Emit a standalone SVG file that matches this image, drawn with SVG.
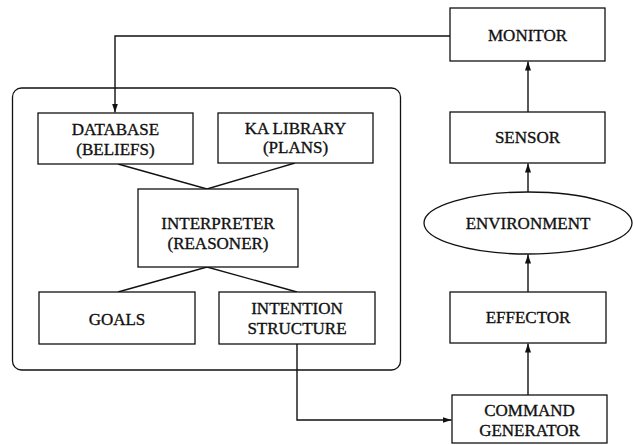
<svg xmlns="http://www.w3.org/2000/svg" width="633" height="445" viewBox="0 0 633 445">
<style>
.b{fill:#fff;stroke:#111;stroke-width:1.3}
.c{fill:none;stroke:#111;stroke-width:1.4}
text{font-family:"Liberation Serif","Times New Roman",serif;font-size:17px;fill:#111;stroke:#111;stroke-width:0.35;text-anchor:middle}
</style>
<defs>
<marker id="ah" markerWidth="9" markerHeight="6" refX="9" refY="3" orient="auto" markerUnits="userSpaceOnUse">
<path d="M0,0 L9,3 L0,6 Z" fill="#111"/>
</marker>
</defs>
<rect width="633" height="445" fill="#fff"/>
<g id="agent"><rect class="b" x="12.5" y="88" width="388" height="282" rx="9" fill="none"/></g>
<g id="connectors">
<path class="c" d="M450,36 H115 V112.5" marker-end="url(#ah)"/>
<path class="c" d="M528,112 V61.5" marker-end="url(#ah)"/>
<path class="c" d="M528,192 V163.5" marker-end="url(#ah)"/>
<path class="c" d="M528,292 V254.5" marker-end="url(#ah)"/>
<path class="c" d="M528,395 V343.5" marker-end="url(#ah)"/>
<path class="c" d="M297,344 V420 H451.5" marker-end="url(#ah)"/>
<path class="c" d="M118,164 L207,189 L295,163"/>
<path class="c" d="M118,292 L207,267 L297,292"/>
</g>
<g id="database"><rect class="b" x="38" y="113" width="155" height="51"/><text x="115.5" y="135">DATABASE</text><text x="115.5" y="155">(BELIEFS)</text></g>
<g id="kalibrary"><rect class="b" x="218" y="113" width="155" height="50"/><text x="295.5" y="134">KA LIBRARY</text><text x="295.5" y="153">(PLANS)</text></g>
<g id="interpreter"><rect class="b" x="138" y="189" width="160" height="78"/><text x="218" y="229">INTERPRETER</text><text x="218" y="248.5">(REASONER)</text></g>
<g id="goals"><rect class="b" x="39" y="292" width="156" height="52"/><text x="117" y="325">GOALS</text></g>
<g id="intention"><rect class="b" x="219" y="292" width="156" height="52"/><text x="297" y="314">INTENTION</text><text x="297" y="333.5">STRUCTURE</text></g>
<g id="monitor"><rect class="b" x="450" y="8" width="155" height="53"/><text x="527.5" y="40.5">MONITOR</text></g>
<g id="sensor"><rect class="b" x="450" y="112" width="155" height="51"/><text x="527.5" y="142.5">SENSOR</text></g>
<g id="environment"><ellipse class="b" cx="528" cy="223" rx="104" ry="31"/><text x="528" y="229">ENVIRONMENT</text></g>
<g id="effector"><rect class="b" x="450" y="292" width="156" height="51"/><text x="528" y="323">EFFECTOR</text></g>
<g id="command"><rect class="b" x="452" y="395" width="155" height="48"/><text x="529.5" y="416">COMMAND</text><text x="529.5" y="435.5">GENERATOR</text></g>
</svg>
